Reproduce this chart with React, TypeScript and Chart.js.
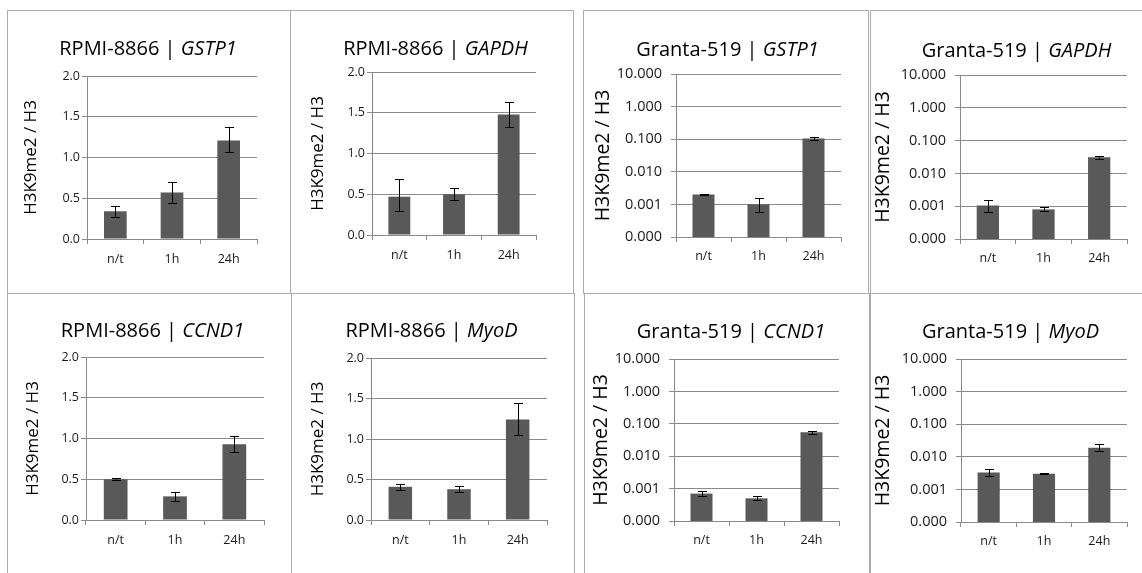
import React, { useEffect, useRef } from "react";
import { Chart, registerables } from "chart.js";

Chart.register(...registerables);

// ---------- data ----------
const categories = ["n/t", "1h", "24h"];
const linearTickValues = [0, 0.5, 1.0, 1.5, 2.0];
const logTickValues = [0.0001, 0.001, 0.01, 0.1, 1, 10];
const yAxisTitle = "H3K9me2 / H3";

const rpmiGstp1 = [0.34, 0.57, 1.21];
const rpmiGstp1Low = [0.27, 0.44, 1.07];
const rpmiGstp1High = [0.4, 0.7, 1.37];

const rpmiGapdh = [0.47, 0.5, 1.48];
const rpmiGapdhLow = [0.3, 0.43, 1.32];
const rpmiGapdhHigh = [0.69, 0.58, 1.63];

const grantaGstp1 = [0.002, 0.001, 0.105];
const grantaGstp1Low = [0.0019, 0.0006, 0.097];
const grantaGstp1High = [0.0021, 0.0016, 0.118];

const grantaGapdh = [0.00105, 0.0008, 0.031];
const grantaGapdhLow = [0.00068, 0.0007, 0.028];
const grantaGapdhHigh = [0.0016, 0.00095, 0.034];

const rpmiCcnd1 = [0.5, 0.29, 0.93];
const rpmiCcnd1Low = [0.49, 0.23, 0.84];
const rpmiCcnd1High = [0.51, 0.34, 1.03];

const rpmiMyod = [0.41, 0.38, 1.24];
const rpmiMyodLow = [0.37, 0.34, 1.05];
const rpmiMyodHigh = [0.45, 0.42, 1.45];

const grantaCcnd1 = [0.0007, 0.0005, 0.055];
const grantaCcnd1Low = [0.00058, 0.00045, 0.05];
const grantaCcnd1High = [0.00085, 0.00058, 0.062];

const grantaMyod = [0.0033, 0.003, 0.019];
const grantaMyodLow = [0.0025, 0.0029, 0.0155];
const grantaMyodHigh = [0.0043, 0.0031, 0.024];

// ---------- styles / layout ----------
const FONT = "'Open Sans', Lato, sans-serif";
const BAR_COLOR = "#595959";
const GRID_COLOR = "#8a8a8a";
const FRAME_COLOR = "#ababab";
const TEXT_COLOR = "#1a1a1a";

type Panel = {
  cell: string;
  gene: string;
  values: number[];
  low: number[];
  high: number[];
  log: boolean;
  box: { l: number; t: number; w: number; h: number };
  area: { left: number; right: number; top: number; bottom: number };
  titleX: number;
  titleY: number;
  yTitleX: number;
};

const panels: Panel[] = [
  { cell: "RPMI-8866", gene: "GSTP1", values: rpmiGstp1, low: rpmiGstp1Low, high: rpmiGstp1High, log: false,
    box: { l: 7, t: 10, w: 284, h: 284 }, area: { left: 80, right: 250, top: 66, bottom: 229 }, titleX: 141, titleY: 45, yTitleX: 24 },
  { cell: "RPMI-8866", gene: "GAPDH", values: rpmiGapdh, low: rpmiGapdhLow, high: rpmiGapdhHigh, log: false,
    box: { l: 291, t: 10, w: 283, h: 284 }, area: { left: 81, right: 245, top: 62, bottom: 225 }, titleX: 144.5, titleY: 45, yTitleX: 27 },
  { cell: "Granta-519", gene: "GSTP1", values: grantaGstp1, low: grantaGstp1Low, high: grantaGstp1High, log: true,
    box: { l: 584, t: 10, w: 286, h: 284 }, area: { left: 92, right: 257, top: 64, bottom: 227 }, titleX: 143.5, titleY: 46, yTitleX: 19 },
  { cell: "Granta-519", gene: "GAPDH", values: grantaGapdh, low: grantaGapdhLow, high: grantaGapdhHigh, log: true,
    box: { l: 870, t: 10, w: 272, h: 284 }, area: { left: 90, right: 257, top: 65, bottom: 229 }, titleX: 146.5, titleY: 47, yTitleX: 13.5 },
  { cell: "RPMI-8866", gene: "CCND1", values: rpmiCcnd1, low: rpmiCcnd1Low, high: rpmiCcnd1High, log: false,
    box: { l: 7, t: 294, w: 284, h: 279 }, area: { left: 79, right: 257, top: 63, bottom: 226 }, titleX: 145.5, titleY: 43, yTitleX: 26 },
  { cell: "RPMI-8866", gene: "MyoD", values: rpmiMyod, low: rpmiMyodLow, high: rpmiMyodHigh, log: false,
    box: { l: 291, t: 294, w: 283, h: 279 }, area: { left: 80, right: 256, top: 64, bottom: 226 }, titleX: 140.5, titleY: 43, yTitleX: 27 },
  { cell: "Granta-519", gene: "CCND1", values: grantaCcnd1, low: grantaCcnd1Low, high: grantaCcnd1High, log: true,
    box: { l: 584, t: 294, w: 286, h: 279 }, area: { left: 90, right: 255, top: 65, bottom: 227 }, titleX: 147, titleY: 44, yTitleX: 17.7 },
  { cell: "Granta-519", gene: "MyoD", values: grantaMyod, low: grantaMyodLow, high: grantaMyodHigh, log: true,
    box: { l: 870, t: 294, w: 272, h: 279 }, area: { left: 91, right: 257, top: 65, bottom: 228 }, titleX: 140.5, titleY: 44, yTitleX: 13 },
];

const frames = [
  { l: 7, t: 10, w: 284, h: 284 },
  { l: 290, t: 10, w: 284, h: 284 },
  { l: 583, t: 10, w: 286, h: 284 },
  { l: 870, t: 10, w: 290, h: 284 },
  { l: 7, t: 293, w: 285, h: 320 },
  { l: 291, t: 293, w: 284, h: 320 },
  { l: 584, t: 293, w: 286, h: 320 },
  { l: 870, t: 293, w: 290, h: 320 },
];

function PanelChart({ p }: { p: Panel }) {
  const ref = useRef<HTMLCanvasElement | null>(null);
  useEffect(() => {
    if (!ref.current) return;
    const titleSize = 20;
    const tickSize = p.log ? 14.5 : 12.5;
    const xTickSize = 12.5;
    const yTitleSize = p.log ? 19.5 : 17;
    const tickVals = p.log ? logTickValues : linearTickValues;

    const titlePlugin = {
      id: "splitTitle",
      afterDraw(chart: any) {
        const ctx = chart.ctx;
        ctx.save();
        const f1 = `${titleSize}px ${FONT}`;
        const f2 = `italic ${titleSize}px ${FONT}`;
        const a = `${p.cell} | `;
        ctx.font = f1;
        const w1 = ctx.measureText(a).width;
        ctx.font = f2;
        const w2 = ctx.measureText(p.gene).width;
        const x0 = p.titleX - (w1 + w2) / 2;
        ctx.fillStyle = "#000";
        ctx.textAlign = "left";
        ctx.textBaseline = "alphabetic";
        ctx.font = f1;
        ctx.fillText(a, x0, p.titleY);
        ctx.font = f2;
        ctx.fillText(p.gene, x0 + w1, p.titleY);
        ctx.restore();
      },
    };

    const errorPlugin = {
      id: "errorBars",
      afterDatasetsDraw(chart: any) {
        const ctx = chart.ctx;
        const meta = chart.getDatasetMeta(0);
        const ys = chart.scales.y;
        ctx.save();
        ctx.strokeStyle = "#000";
        ctx.lineWidth = 1;
        meta.data.forEach((bar: any, i: number) => {
          const x = Math.round(bar.x) + 0.5;
          const yl = Math.round(ys.getPixelForValue(p.low[i])) + 0.5;
          const yh = Math.round(ys.getPixelForValue(p.high[i])) + 0.5;
          ctx.beginPath();
          ctx.moveTo(x, yl);
          ctx.lineTo(x, yh);
          ctx.moveTo(x - 4.5, yh);
          ctx.lineTo(x + 4.5, yh);
          ctx.moveTo(x - 4.5, yl);
          ctx.lineTo(x + 4.5, yl);
          ctx.stroke();
        });
        ctx.restore();
      },
    };

    const chart = new Chart(ref.current, {
      type: "bar",
      data: {
        labels: categories,
        datasets: [
          {
            data: p.values,
            backgroundColor: BAR_COLOR,
            borderWidth: 0,
            barPercentage: 0.4,
            categoryPercentage: 1,
          },
        ],
      },
      options: {
        animation: false,
        responsive: false,
        maintainAspectRatio: false,
        devicePixelRatio: 1,
        layout: { padding: { left: 0, top: p.area.top, right: p.box.w - p.area.right, bottom: 0 } },
        plugins: { legend: { display: false }, tooltip: { enabled: false }, title: { display: false } },
        scales: {
          x: {
            offset: true,
            grid: { display: true, drawOnChartArea: false, drawTicks: true, tickLength: 5, color: GRID_COLOR, offset: true },
            border: { display: true, color: GRID_COLOR },
            ticks: { font: { family: FONT, size: xTickSize }, color: TEXT_COLOR, padding: p.log ? 7 : 8 },
            afterFit: (s: any) => {
              s.height = p.box.h - p.area.bottom;
            },
          },
          y: {
            type: p.log ? "logarithmic" : "linear",
            min: tickVals[0],
            max: tickVals[tickVals.length - 1],
            afterBuildTicks: (s: any) => {
              s.ticks = tickVals.map((v) => ({ value: v }));
            },
            ticks: {
              font: { family: FONT, size: tickSize },
              color: TEXT_COLOR,
              padding: p.log ? 9 : 2,
              autoSkip: false,
              callback: (v: any) => (p.log ? Number(v).toFixed(3) : Number(v).toFixed(1)),
            },
            grid: { color: GRID_COLOR, tickLength: 5, drawTicks: true },
            border: { display: true, color: GRID_COLOR },
            title: {
              display: true,
              text: yAxisTitle,
              color: "#000",
              font: { family: FONT, size: yTitleSize },
              padding: { top: p.yTitleX - yTitleSize * 0.6, bottom: 0 },
            },
            afterFit: (s: any) => {
              s.width = p.area.left;
            },
          },
        },
      } as any,
      plugins: [titlePlugin, errorPlugin],
    });
    return () => chart.destroy();
  }, [p]);

  return (
    <canvas
      ref={ref}
      width={p.box.w}
      height={p.box.h}
      style={{ position: "absolute", left: p.box.l, top: p.box.t, width: p.box.w, height: p.box.h }}
    />
  );
}

export default function App() {
  return (
    <div style={{ position: "absolute", left: 0, top: 0, width: 1142, height: 573, background: "#fff", overflow: "hidden" }}>
      {panels.map((p, i) => (
        <PanelChart key={i} p={p} />
      ))}
      {frames.map((f, i) => (
        <div
          key={"f" + i}
          style={{
            position: "absolute",
            left: f.l,
            top: f.t,
            width: f.w,
            height: f.h,
            border: `1px solid ${FRAME_COLOR}`,
            boxSizing: "border-box",
            pointerEvents: "none",
          }}
        />
      ))}
    </div>
  );
}
